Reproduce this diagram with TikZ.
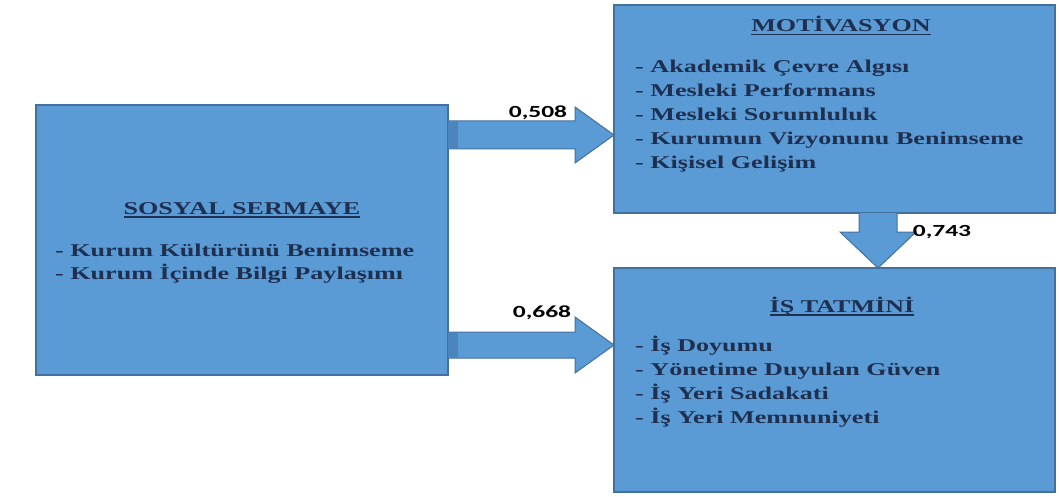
\documentclass[tikz,border=0pt]{standalone}
\usepackage{fontspec}
\usepackage{xcolor}
\usetikzlibrary{calc}
\newfontfamily\kutuyazi{Liberation Serif}[FakeStretch=1.45]
\newfontfamily\sayiyazi{Carlito}[FakeStretch=1.5]
\definecolor{kutumavi}{HTML}{5B9BD5}
\definecolor{kenarmavi}{HTML}{41719C}
\definecolor{yazimavi}{HTML}{1F2F4F}
\definecolor{serit}{HTML}{4A85BE}
\newcommand{\KY}{\kutuyazi\fontsize{18}{24}\selectfont\bfseries}
\newcommand{\SY}{\sayiyazi\fontsize{17}{20}\selectfont\bfseries}
\newcommand{\cizgili}[1]{\setbox0\hbox{#1}\rlap{\rule[-3.5pt]{\wd0}{1.6pt}}\box0}

\begin{document}
\begin{tikzpicture}[x=1pt,y=-1pt]
\tikzstyle{kutu}=[draw=kenarmavi,fill=kutumavi,line width=1.6pt,inner sep=0pt,outer sep=0pt]
\tikzstyle{baslik}=[anchor=base,inner sep=0pt,text=yazimavi,font=\KY]
\tikzstyle{madde}=[anchor=north west,align=left,inner sep=0pt,text=yazimavi,font=\KY]
\tikzstyle{ok}=[draw=kenarmavi,fill=kutumavi,line width=1pt,line join=miter]
\tikzstyle{sayi}=[inner sep=0pt,black,font=\SY]

\useasboundingbox (0,0) rectangle (1059,497);

% kutular
\node[kutu,minimum width=412pt,minimum height=270pt] (sosyal) at (242,240) {};
\node[kutu,minimum width=441pt,minimum height=208pt] (motiv) at (834.5,109) {};
\node[kutu,minimum width=441pt,minimum height=224pt] (tatmin) at (834.5,380) {};

% oklar
\coordinate (u1) at (sosyal.east |- 0,135);
\coordinate (u2) at (motiv.west |- 0,135);
\filldraw[ok] ($(u1)+(0,-14)$) -- ($(u2)+(-39,-14)$) -- ($(u2)+(-39,-28)$) -- (u2)
  -- ($(u2)+(-39,28)$) -- ($(u2)+(-39,14)$) -- ($(u1)+(0,14)$);
\fill[serit] ($(u1)+(0,-13.5)$) rectangle ($(u1)+(10,13.5)$);

\coordinate (v1) at (sosyal.east |- 0,345);
\coordinate (v2) at (tatmin.west |- 0,345);
\filldraw[ok] ($(v1)+(0,-13)$) -- ($(v2)+(-39,-13)$) -- ($(v2)+(-39,-28)$) -- (v2)
  -- ($(v2)+(-39,28)$) -- ($(v2)+(-39,13)$) -- ($(v1)+(0,13)$);
\fill[serit] ($(v1)+(0,-12.5)$) rectangle ($(v1)+(10,12.5)$);

\coordinate (a1) at (878,0 |- motiv.south);
\coordinate (a2) at (878,0 |- tatmin.north);
\filldraw[ok] ($(a1)+(-19,0)$) -- ($(a2)+(-19,-36)$) -- ($(a2)+(-38,-36)$) -- (a2)
  -- ($(a2)+(38,-36)$) -- ($(a2)+(19,-36)$) -- ($(a1)+(19,0)$);

% katsayilar
\node[sayi] (s1) at (538,113) {0,508};
\node[sayi] (s2) at (542,313) {0,668};
\node[sayi] (s3) at (942,232) {0,743};

% yazilar
\node[baslik] (sosyalbaslik) at (242,214) {\cizgili{SOSYAL SERMAYE}};
\node[madde] (sosyalmadde) at (55,244) {- Kurum Kültürünü Benimseme\\[-1pt]- Kurum İçinde Bilgi Paylaşımı};

\node[baslik] (motivbaslik) at (841,32) {\cizgili{MOTİVASYON}};
\node[madde] (motivmadde) at (635,60) {- Akademik Çevre Algısı\\- Mesleki Performans\\- Mesleki Sorumluluk\\- Kurumun Vizyonunu Benimseme\\- Kişisel Gelişim};

\node[baslik] (tatminbaslik) at (842,312) {\cizgili{İŞ TATMİNİ}};
\node[madde] (tatminmadde) at (635,335.5) {- İş Doyumu\\- Yönetime Duyulan Güven\\- İş Yeri Sadakati\\- İş Yeri Memnuniyeti};
\end{tikzpicture}
\end{document}
